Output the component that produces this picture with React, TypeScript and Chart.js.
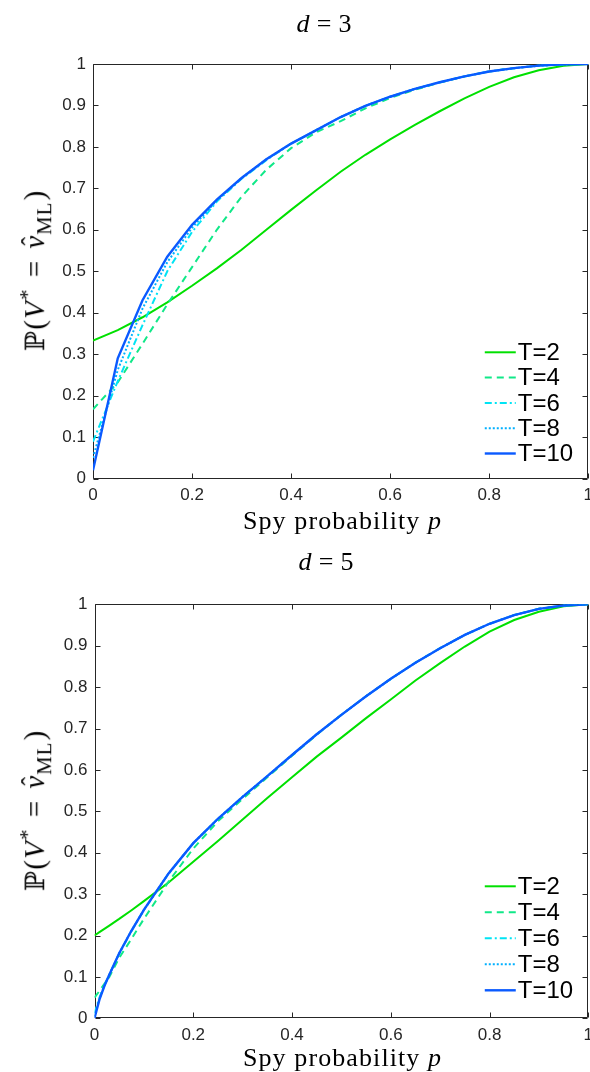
import React, { useEffect, useRef } from "react";
import { Chart, registerables } from "chart.js";
Chart.register(...registerables);

// ---------- data ----------
const seriesLabels = ["T=2", "T=4", "T=6", "T=8", "T=10"];
const seriesColors = ["#00E000", "#10E888", "#00E4F4", "#00B0FF", "#0A5AFF"];
const seriesDashes = [[], [7, 5], [7, 3, 2, 3], [2, 2], []];
const seriesWidths = [2, 2, 2, 2, 2.4];

const xTicks = [0, 0.2, 0.4, 0.6, 0.8, 1];
const yTicks = [0, 0.1, 0.2, 0.3, 0.4, 0.5, 0.6, 0.7, 0.8, 0.9, 1];

// d = 3
const pTop = [0, 0.05, 0.1, 0.15, 0.2, 0.25, 0.3, 0.35, 0.4, 0.45, 0.5, 0.55, 0.6, 0.65, 0.7, 0.75, 0.8, 0.85, 0.9, 0.95, 1];
const d3T2 = [0.333, 0.358, 0.389, 0.425, 0.465, 0.507, 0.552, 0.6, 0.648, 0.695, 0.74, 0.781, 0.818, 0.853, 0.886, 0.917, 0.945, 0.968, 0.985, 0.996, 1];
const d3T4 = [0.167, 0.232, 0.325, 0.42, 0.51, 0.6, 0.68, 0.745, 0.797, 0.835, 0.862, 0.893, 0.918, 0.938, 0.955, 0.97, 0.982, 0.99, 0.996, 0.999, 1];
const d3T6 = [0.089, 0.235, 0.37, 0.5, 0.595, 0.668, 0.723, 0.768, 0.808, 0.84, 0.872, 0.899, 0.921, 0.94, 0.956, 0.97, 0.982, 0.99, 0.996, 0.999, 1];
const d3T8 = [0.05, 0.262, 0.41, 0.522, 0.605, 0.671, 0.725, 0.77, 0.808, 0.84, 0.872, 0.899, 0.921, 0.94, 0.956, 0.97, 0.982, 0.99, 0.996, 0.999, 1];
const d3T10 = [0.02, 0.29, 0.43, 0.535, 0.612, 0.673, 0.725, 0.77, 0.808, 0.84, 0.872, 0.899, 0.921, 0.94, 0.956, 0.97, 0.982, 0.99, 0.996, 0.999, 1];

// d = 5
const pBottom = [0, 0.01, 0.02, 0.03, 0.05, 0.075, 0.1, 0.15, 0.2, 0.25, 0.3, 0.35, 0.4, 0.45, 0.5, 0.55, 0.6, 0.65, 0.7, 0.75, 0.8, 0.85, 0.9, 0.95, 1];
const d5T2 = [0.2, 0.208, 0.216, 0.224, 0.24, 0.261, 0.283, 0.328, 0.378, 0.428, 0.48, 0.532, 0.582, 0.632, 0.678, 0.725, 0.77, 0.816, 0.858, 0.898, 0.934, 0.962, 0.982, 0.995, 1];
const d5T4 = [0.05, 0.066, 0.083, 0.1, 0.146, 0.192, 0.24, 0.33, 0.41, 0.476, 0.53, 0.582, 0.634, 0.685, 0.733, 0.778, 0.82, 0.859, 0.894, 0.926, 0.953, 0.974, 0.989, 0.997, 1];
const d5T6 = [0.012, 0.05, 0.08, 0.106, 0.156, 0.211, 0.261, 0.349, 0.423, 0.482, 0.535, 0.585, 0.636, 0.686, 0.733, 0.778, 0.82, 0.859, 0.894, 0.926, 0.953, 0.974, 0.989, 0.997, 1];
const d5T8 = [0.004, 0.047, 0.079, 0.105, 0.157, 0.212, 0.262, 0.35, 0.423, 0.482, 0.535, 0.585, 0.636, 0.686, 0.733, 0.778, 0.82, 0.859, 0.894, 0.926, 0.953, 0.974, 0.989, 0.997, 1];
const d5T10 = [0, 0.045, 0.078, 0.105, 0.157, 0.212, 0.262, 0.35, 0.423, 0.482, 0.535, 0.585, 0.636, 0.686, 0.733, 0.778, 0.82, 0.859, 0.894, 0.926, 0.953, 0.974, 0.989, 0.997, 1];

// ---------- layout ----------
const CANVAS_W = 600;
const CANVAS_H = 536;
const PLOT_RIGHT = 588.5;

const fmt = (v: number) => String(Math.round(v * 10) / 10);

type PanelProps = {
  top: number;
  p: number[];
  series: number[][];
  plotLeft: number;
  plotTop: number;
  plotBottom: number;
  legendBottom: number;
  legendStep: number;
};

function Panel({ top, p, series, plotLeft, plotTop, plotBottom, legendBottom, legendStep }: PanelProps) {
  const ref = useRef<HTMLCanvasElement | null>(null);
  useEffect(() => {
    if (!ref.current) return;
    const tickFont = { family: '"Liberation Sans", Arial, sans-serif', size: 17 };
    const boxPlugin = {
      id: "boxTicks",
      beforeDatasetsDraw(chart: any) {
        const { ctx, chartArea } = chart;
        const { left, right, top: t, bottom } = chartArea;
        const xs = chart.scales.x;
        const ys = chart.scales.y;
        ctx.save();
        ctx.strokeStyle = "#262626";
        ctx.lineWidth = 1;
        const L = Math.round(left) + 0.5;
        const R = Math.round(right) - 0.5;
        const T = Math.round(t) + 0.5;
        const B = Math.round(bottom) - 0.5;
        ctx.beginPath();
        ctx.rect(L, T, R - L, B - T);
        ctx.stroke();
        ctx.beginPath();
        const tl = 5;
        xTicks.forEach((v) => {
          const px = Math.round(xs.getPixelForValue(v)) + 0.5;
          ctx.moveTo(px, B);
          ctx.lineTo(px, B - tl);
          ctx.moveTo(px, T);
          ctx.lineTo(px, T + tl);
        });
        yTicks.forEach((v) => {
          const py = Math.round(ys.getPixelForValue(v)) + 0.5;
          ctx.moveTo(L, py);
          ctx.lineTo(L + tl, py);
          ctx.moveTo(R, py);
          ctx.lineTo(R - tl, py);
        });
        ctx.stroke();
        ctx.restore();
      },
    };
    const legendPlugin = {
      id: "innerLegend",
      afterDatasetsDraw(chart: any) {
        const { ctx, chartArea } = chart;
        ctx.save();
        ctx.font = '24px "Liberation Sans", Arial, sans-serif';
        ctx.textBaseline = "middle";
        ctx.textAlign = "left";
        const n = seriesLabels.length;
        seriesLabels.forEach((lab, i) => {
          const y = chartArea.bottom - legendBottom - (n - 1 - i) * legendStep;
          const x0 = chartArea.right - 103.5;
          const x1 = chartArea.right - 72.5;
          ctx.strokeStyle = seriesColors[i];
          ctx.lineWidth = seriesWidths[i];
          ctx.setLineDash(seriesDashes[i]);
          ctx.beginPath();
          ctx.moveTo(x0, y);
          ctx.lineTo(x1, y);
          ctx.stroke();
          ctx.setLineDash([]);
          ctx.fillStyle = "#000";
          ctx.fillText(lab, chartArea.right - 70.5, y + 1);
        });
        ctx.restore();
      },
    };
    const chart = new Chart(ref.current, {
      type: "line",
      data: {
        datasets: series.map((vals, i) => ({
          label: seriesLabels[i],
          data: p.map((x, j) => ({ x, y: vals[j] })),
          borderColor: seriesColors[i],
          borderWidth: seriesWidths[i],
          borderDash: seriesDashes[i],
          pointRadius: 0,
          fill: false,
          tension: 0,
          order: seriesLabels.length - 1 - i,
        })),
      },
      options: {
        animation: false,
        responsive: false,
        maintainAspectRatio: false,
        events: [],
        layout: { padding: { top: plotTop, right: CANVAS_W - PLOT_RIGHT, left: 0, bottom: 0 } },
        plugins: { legend: { display: false }, tooltip: { enabled: false }, title: { display: false } },
        scales: {
          x: {
            type: "linear",
            min: 0,
            max: 1,
            afterBuildTicks: (s: any) => {
              s.ticks = xTicks.map((v) => ({ value: v }));
            },
            ticks: { padding: 7, font: tickFont, color: "#262626", maxRotation: 0, autoSkip: false, callback: (v: any) => fmt(Number(v)) },
            grid: { display: false, drawTicks: false },
            border: { display: false },
            afterFit: (s: any) => {
              s.height = CANVAS_H - plotBottom;
            },
          },
          y: {
            type: "linear",
            min: 0,
            max: 1,
            afterBuildTicks: (s: any) => {
              s.ticks = yTicks.map((v) => ({ value: v }));
            },
            ticks: { padding: 7, font: tickFont, color: "#262626", autoSkip: false, callback: (v: any) => fmt(Number(v)) },
            grid: { display: false, drawTicks: false },
            border: { display: false },
            afterFit: (s: any) => {
              s.width = plotLeft;
            },
          },
        },
      },
      plugins: [boxPlugin, legendPlugin],
    } as any);
    return () => chart.destroy();
  }, []);
  return (
    <canvas
      ref={ref}
      width={CANVAS_W}
      height={CANVAS_H}
      style={{ position: "absolute", left: 0, top, width: CANVAS_W, height: CANVAS_H }}
    />
  );
}

const serif = '"Liberation Serif", "Times New Roman", serif';

function Label({ x, y, size, rotate, children }: any) {
  return (
    <div
      style={{
        position: "absolute",
        left: x,
        top: y,
        transform: `translate(-50%, -50%)${rotate ? " rotate(-90deg)" : ""}`,
        whiteSpace: "nowrap",
        fontFamily: serif,
        fontSize: size,
        lineHeight: 1,
        color: "#000",
      }}
    >
      {children}
    </div>
  );
}

function YLabel({ x, y }: { x: number; y: number }) {
  return (
    <Label x={x} y={y} size={29} rotate>
      <span style={{ fontFamily: '"DejaVu Serif", serif', fontSize: "0.92em" }}>ℙ</span>
      <span style={{ marginLeft: "0.05em" }}>(</span>
      <i style={{ marginLeft: "0.04em" }}>V</i>
      <sup style={{ fontSize: "0.72em", verticalAlign: "0.5em", marginLeft: "0.06em" }}>*</sup>
      <span style={{ margin: "0 0.42em" }}>=</span>
      <span style={{ position: "relative", display: "inline-block" }}>
        <i>v</i>
        <span style={{ position: "absolute", left: "0.12em", top: "-0.1em", fontSize: "0.9em" }}>ˆ</span>
      </span>
      <sub style={{ fontSize: "0.72em", verticalAlign: "-0.3em", letterSpacing: "0.05em", marginLeft: "0.04em" }}>ML</sub>
      <span style={{ marginLeft: "0.04em" }}>)</span>
    </Label>
  );
}

function XLabel({ x, y }: { x: number; y: number }) {
  return (
    <Label x={x} y={y} size={26}>
      <span style={{ letterSpacing: "1.1px" }}>Spy probability </span>
      <i>p</i>
    </Label>
  );
}

function Title({ x, y, n }: { x: number; y: number; n: string }) {
  return (
    <Label x={x} y={y} size={26}>
      <i>d</i>
      <span style={{ margin: "0 0.28em" }}>=</span>
      {n}
    </Label>
  );
}

export default function App() {
  return (
    <div
      style={{
        position: "absolute",
        left: 0,
        top: 0,
        width: 590,
        height: 1072,
        overflow: "hidden",
        background: "#fff",
      }}
    >
      <Panel
        top={0}
        p={pTop}
        series={[d3T2, d3T4, d3T6, d3T8, d3T10]}
        plotLeft={93}
        plotTop={64}
        plotBottom={478.5}
        legendBottom={25}
        legendStep={25.3}
      />
      <Panel
        top={540}
        p={pBottom}
        series={[d5T2, d5T4, d5T6, d5T8, d5T10]}
        plotLeft={94.5}
        plotTop={64.3}
        plotBottom={478.3}
        legendBottom={28}
        legendStep={26}
      />
      <Title x={324} y={24} n="3" />
      <Title x={326} y={562} n="5" />
      <XLabel x={342} y={521} />
      <XLabel x={342} y={1058} />
      <YLabel x={36} y={271} />
      <YLabel x={36} y={811} />
    </div>
  );
}
